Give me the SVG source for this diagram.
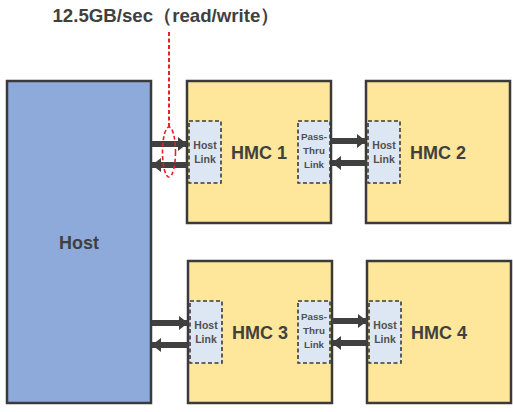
<svg xmlns="http://www.w3.org/2000/svg" width="513" height="412" viewBox="0 0 513 412">
<style>
.box{stroke:#3a3a3a;stroke-width:2.5}
.host{fill:#8eaadb}
.hmc{fill:#fee69b}
.link{fill:#dce7f3;stroke:#3a3a3a;stroke-width:1.6;stroke-dasharray:4 2.5}
.big{font-family:"Liberation Sans",Arial,sans-serif;font-weight:bold;font-size:18px;fill:#404040;text-anchor:middle}
.small{font-family:"Liberation Sans",Arial,sans-serif;font-weight:bold;font-size:10.5px;fill:#505050;text-anchor:middle}
.pt{font-size:9.8px}
.arr{stroke:#404040;stroke-width:6;fill:none}
</style>
<defs>
<marker id="ah" markerUnits="userSpaceOnUse" markerWidth="9" markerHeight="14" refX="9" refY="7" orient="auto">
<path d="M0,0 L9,7 L0,14 Z" fill="#404040"/>
</marker>
</defs>
<rect x="0" y="0" width="513" height="412" fill="#ffffff"/>
<text x="166" y="22" class="big" style="font-size:18.5px" textLength="227" lengthAdjust="spacingAndGlyphs">12.5GB/sec（read/write）</text>
<g id="host"><rect class="box host" x="7" y="81" width="144" height="322"/><text class="big" x="79" y="249">Host</text></g>
<g id="hmc1"><rect class="box hmc" x="187" y="81" width="144" height="142"/>
<rect class="link" x="189" y="121" width="32" height="62"/><text class="small" x="205" y="149">Host</text><text class="small" x="205" y="163">Link</text>
<rect class="link" x="298" y="121" width="32" height="62"/><text class="small pt" x="314" y="140">Pass-</text><text class="small pt" x="314" y="154">Thru</text><text class="small pt" x="314" y="168">Link</text>
<text class="big" x="259" y="159">HMC 1</text></g>
<g id="hmc2"><rect class="box hmc" x="366" y="81" width="144" height="142"/>
<rect class="link" x="368" y="121" width="32" height="62"/><text class="small" x="384" y="149">Host</text><text class="small" x="384" y="163">Link</text>
<text class="big" x="438" y="159">HMC 2</text></g>
<g id="hmc3"><rect class="box hmc" x="188" y="261" width="144" height="142"/>
<rect class="link" x="190" y="301" width="32" height="62"/><text class="small" x="206" y="329">Host</text><text class="small" x="206" y="343">Link</text>
<rect class="link" x="298" y="301" width="32" height="62"/><text class="small pt" x="314" y="320">Pass-</text><text class="small pt" x="314" y="334">Thru</text><text class="small pt" x="314" y="348">Link</text>
<text class="big" x="260" y="339">HMC 3</text></g>
<g id="hmc4"><rect class="box hmc" x="367" y="261" width="144" height="142"/>
<rect class="link" x="369" y="301" width="32" height="62"/><text class="small" x="385" y="329">Host</text><text class="small" x="385" y="343">Link</text>
<text class="big" x="439" y="339">HMC 4</text></g>
<g id="connectors">
<path class="arr" d="M152,144 H187" marker-end="url(#ah)"/>
<path class="arr" d="M188,165 H152" marker-end="url(#ah)"/>
<path class="arr" d="M331,141 H366" marker-end="url(#ah)"/>
<path class="arr" d="M367,163 H332" marker-end="url(#ah)"/>
<path class="arr" d="M152,323 H188" marker-end="url(#ah)"/>
<path class="arr" d="M189,345 H152" marker-end="url(#ah)"/>
<path class="arr" d="M331,321 H367" marker-end="url(#ah)"/>
<path class="arr" d="M368,343 H332" marker-end="url(#ah)"/>
<path d="M169,32 V127" stroke="#e8202a" stroke-width="2" stroke-dasharray="4 2.5" fill="none"/>
<ellipse cx="169" cy="152" rx="6.5" ry="25" stroke="#e8202a" stroke-width="1.6" stroke-dasharray="4 2.5" fill="none"/>
</g>
</svg>
